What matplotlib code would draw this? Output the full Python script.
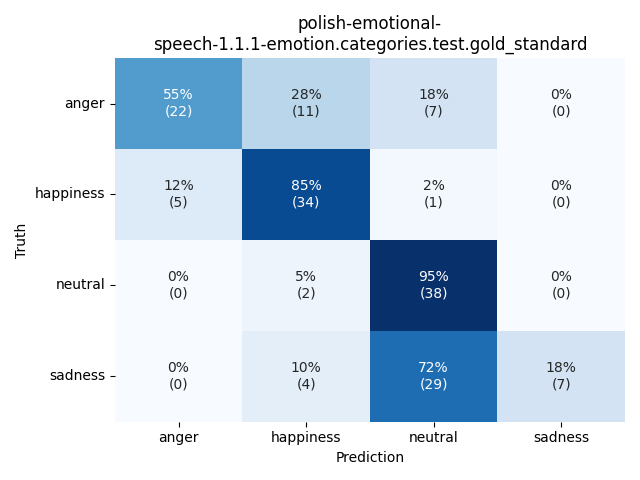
import numpy as np
import matplotlib
matplotlib.use("Agg")
import matplotlib.pyplot as plt
import seaborn as sns

labels = ["anger", "happiness", "neutral", "sadness"]
counts = np.array([
    [22, 11, 7, 0],
    [5, 34, 1, 0],
    [0, 2, 38, 0],
    [0, 4, 29, 7],
])

pct = counts / counts.sum(axis=1, keepdims=True)
annot = np.array([[f"{100 * p:.0f}%\n({c})" for p, c in zip(prow, crow)]
                  for prow, crow in zip(pct, counts)])

fig, ax = plt.subplots(figsize=(6.4, 4.8), dpi=100)
sns.heatmap(pct, annot=annot, fmt="", cmap="Blues", cbar=False,
            xticklabels=labels, yticklabels=labels, ax=ax)
ax.set_xlabel("Prediction")
ax.set_ylabel("Truth")
ax.set_title("polish-emotional-\nspeech-1.1.1-emotion.categories.test.gold_standard")
plt.yticks(rotation=0)
plt.tight_layout()
plt.savefig("out.png", dpi=100)
